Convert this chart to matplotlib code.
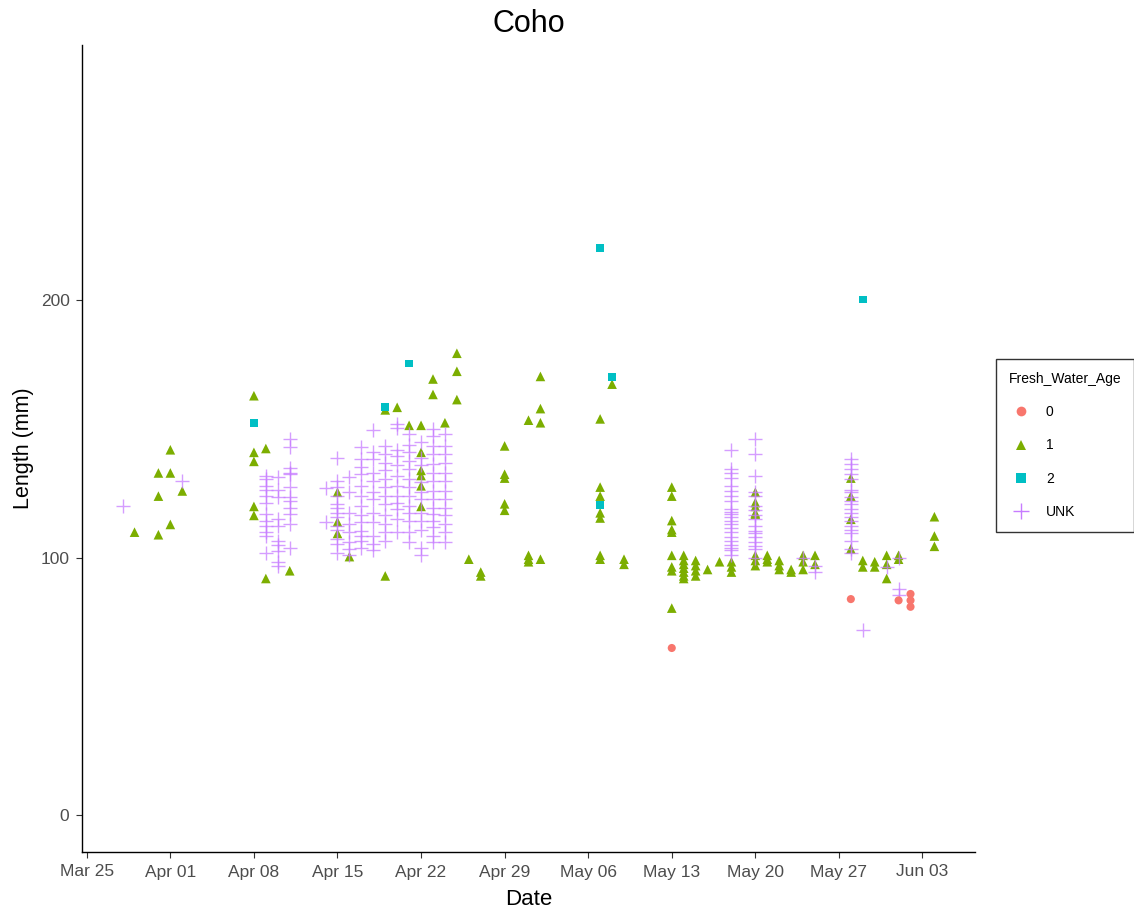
import numpy as np
import pandas as pd
import matplotlib
matplotlib.use("Agg")
import matplotlib.pyplot as plt
import matplotlib.dates as mdates
from matplotlib.lines import Line2D

plt.rcParams['font.family'] = ['Liberation Sans', 'DejaVu Sans']

YEAR = "2019"

# ===== DATA =====
age0_dates = ["05-13", "05-28", "06-01", "06-02"]
age0_len = [[65], [84], [83.5], [86, 83.5, 81]]

age2_dates = ["04-08", "04-19", "04-21", "05-07", "05-08", "05-29"]
age2_len = [[152.5], [158.5], [175.5], [220.5, 120.5], [170.3], [200.4]]

age1_dates = ["03-29", "03-31", "04-01", "04-02", "04-08", "04-09", "04-11", "04-15",
              "04-16", "04-19", "04-20", "04-21", "04-22", "04-23", "04-24", "04-25",
              "04-26", "04-27", "04-29", "05-01", "05-02", "05-07", "05-08", "05-09",
              "05-13", "05-14", "05-15", "05-16", "05-17", "05-18", "05-20", "05-21",
              "05-22", "05-23", "05-24", "05-25", "05-28", "05-29", "05-30", "05-31",
              "06-01", "06-04"]
age1_len = [[110], [133, 124, 109], [142, 133, 113], [126],
            [163, 141, 137.5, 120, 116.5], [142.5, 92], [95], [125.5, 114, 109.5],
            [100.5], [157.5, 93], [158.5], [151.5], [151.5, 141, 134, 132, 128, 120],
            [169.5, 163.5], [152.5], [179.5, 172.5, 161.5],
            [99.5], [94.5, 93], [143.5, 132.5, 131, 121, 118.5], [153.5, 101, 99.5, 98.5],
            [170.5, 158, 152.5, 99.5], [154, 127.5, 124, 117.5, 115.5, 101, 99.5], [167.5],
            [99.5, 97.5],
            [127.5, 124, 114.5, 111, 110, 101, 96.5, 95, 80.5],
            [101, 99, 97.5, 96, 94.5, 93, 92], [99, 97, 95, 93], [95.5], [98.5],
            [98.5, 96.5, 94.5], [125.5, 121.5, 120, 117.5, 117, 101, 99, 97],
            [101, 99.5, 98.5], [99, 97, 95.5], [95.5, 94.5], [101, 98.5, 95.5], [101, 97.5],
            [131, 124, 115, 103.5], [99, 96.5], [98.5, 96.5], [101, 97.5, 92],
            [101, 99.5], [116, 108.5, 104.5]]

unk_dates = ["03-28", "04-02", "04-09", "04-10", "04-11", "04-14", "04-15", "04-16",
             "04-17", "04-18", "04-19", "04-20", "04-21", "04-22", "04-23", "04-24",
             "05-18", "05-20", "05-24", "05-25", "05-28", "05-29", "05-31", "06-01"]
unk_len = [[120], [130],
           [132, 130.5, 128, 126.5, 124, 121.5, 117, 114.5, 112.5, 110, 108.5, 102],
           [131.5, 126.5, 123.5, 115, 112.5, 106.5, 105, 102.5, 98.5, 97],
           [146, 143, 135, 133, 132.5, 127.5, 123.5, 122, 119.5, 117, 113, 104],
           [127, 114],
           [139, 130, 127.5, 124, 121, 119.5, 117.5, 116, 112.5, 111, 107.5, 105.5, 102],
           [131.5, 125.5, 117.5, 113, 110, 106, 103.5, 101],
           [143, 138.5, 135.5, 132.5, 128, 124, 120, 116.5, 114, 110.5, 108.5, 106.5, 104],
           [149.5, 141, 138.5, 133, 130, 125.5, 123, 117.5, 114, 108.5, 105.5, 103],
           [143.5, 140.5, 137, 134, 130.5, 127.5, 124, 121, 116.5, 113, 110, 106.5],
           [152, 150.5, 142, 139.5, 136, 132, 128, 124, 121.5, 119, 115, 110],
           [148, 144, 141, 137.5, 134.5, 130.5, 127.5, 124, 120, 117.5, 114.5, 110, 106],
           [145, 139, 136, 129.5, 125.5, 123, 117.5, 114.5, 111, 104, 101],
           [150, 147.5, 143.5, 140.5, 136.5, 133, 130, 126, 123, 119.5, 117, 114.5, 112,
            108.5, 106],
           [148, 143.5, 140.5, 137, 133, 130, 126, 123, 119.5, 116.5, 113, 110, 106],
           [142, 134.5, 133, 131, 128, 126, 124, 122, 119, 118, 117, 116, 114.5, 113, 111.5,
            110, 108, 106.5, 105, 104, 103, 101],
           [146, 140.5, 132, 125.5, 124, 120, 118.5, 116.5, 115, 112.5, 110.5, 109.5, 108,
            106, 104.5, 103.5, 100],
           [100], [97, 94.5],
           [138.5, 136.5, 134.5, 132.5, 130.5, 126.5, 125.5, 123.5, 122, 121, 119, 117.5,
            116, 114.5, 112.5, 111, 109.5, 106.5, 103.5, 102],
           [72], [96.5], [100, 88, 85.5]]


def expand(dates, lens):
    d, v = [], []
    for day, vals in zip(dates, lens):
        for val in vals:
            d.append(pd.Timestamp(f"{YEAR}-{day}"))
            v.append(val)
    return pd.to_datetime(d), np.array(v)


groups = [
    ("0", age0_dates, age0_len, "#F8766D", "o", 34),
    ("1", age1_dates, age1_len, "#7CAE00", "^", 48),
    ("2", age2_dates, age2_len, "#00BFC4", "s", 32),
    ("UNK", unk_dates, unk_len, "#C77CFF", "+", 110),
]

fig = plt.figure(figsize=(11.34, 9.11), dpi=100)
ax = fig.add_axes([82 / 1134, 1 - 852 / 911, (975 - 82) / 1134, (852 - 45) / 911])

all_dates = []
order = [1, 3, 2, 0]
for i in order:
    name, dts, lns, col, mk, sz = groups[i]
    x, y = expand(dts, lns)
    all_dates.extend(list(x))
    if mk == "+":
        ax.scatter(x, y, marker=mk, s=sz, color=col, linewidths=1.0, alpha=0.75, zorder=3)
    else:
        ax.scatter(x, y, marker=mk, s=sz, color=col, edgecolors='none', zorder=2 if mk == "^" else 4)

# ggplot-like 5% expansion on x
dmin, dmax = min(all_dates), max(all_dates)
pad = (dmax - dmin) * 0.05
ax.set_xlim(dmin - pad, dmax + pad)
ax.set_ylim(-14.25, 299.25)

ticks = pd.date_range(f"{YEAR}-03-25", f"{YEAR}-06-03", freq="7D")
ax.set_xticks(ticks)
ax.xaxis.set_major_formatter(mdates.DateFormatter("%b %d"))
ax.set_yticks([0, 100, 200])

for s in ["top", "right"]:
    ax.spines[s].set_visible(False)
for s in ["left", "bottom"]:
    ax.spines[s].set_color("black")
    ax.spines[s].set_linewidth(1.0)
ax.tick_params(axis="both", colors="#333333", labelcolor="#4D4D4D", labelsize=12.5,
               length=4, width=0.8, pad=5)

ax.set_xlabel("Date", fontsize=16, labelpad=7)
ax.set_ylabel("Length (mm)", fontsize=15.5, labelpad=5)
ax.set_title("Coho", fontsize=22, pad=9)

handles = [Line2D([0], [0], marker=g[4], color=g[3], linestyle="none",
                  markersize=7 if g[4] != "+" else 11, markeredgewidth=1.0 if g[4] == "+" else 0,
                  label=g[0]) for g in groups]
leg = fig.legend(handles=handles, title="Fresh_Water_Age", loc="upper left",
                 bbox_to_anchor=(996 / 1134, 1 - 359 / 911), frameon=True, fancybox=False,
                 fontsize=10, title_fontsize=10, labelspacing=1.4, handlelength=1.8,
                 handletextpad=0.9, borderpad=0.9, borderaxespad=0, alignment="left")
leg.get_frame().set_edgecolor("black")
leg.get_frame().set_linewidth(1.0)

fig.savefig("out.png", dpi=100)
